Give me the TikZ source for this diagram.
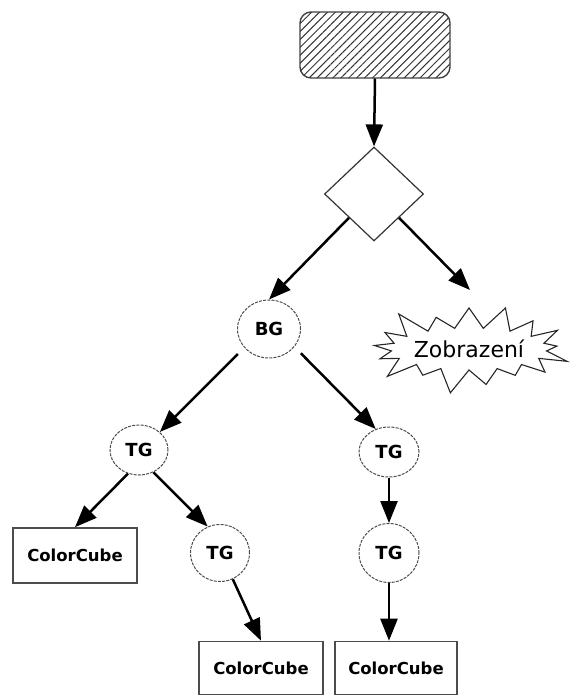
\documentclass[tikz,border=0pt]{standalone}
\usepackage{fontspec}
\setmainfont{DejaVu Sans}
\usetikzlibrary{shapes.geometric,shapes.symbols,arrows.meta,patterns.meta}

\begin{document}
\begin{tikzpicture}[x=1pt,y=-1pt,
  conn/.style={line width=2.5pt, -{Triangle[length=22pt,width=17pt]}},
  grp/.style={ellipse, draw=black!70, line width=1pt, dash pattern=on 3pt off 1.2pt,
    inner sep=0pt, font=\fontsize{18}{20}\selectfont\bfseries},
  cube/.style={rectangle, draw=black!70, line width=1.6pt, minimum width=124pt,
    minimum height=53pt, inner sep=0pt, font=\fontsize{16.5}{18}\selectfont\bfseries},
]
\useasboundingbox (0,0) rectangle (571,696);

% scene root (hatched)
\node[draw=black!75, line width=1.4pt, rounded corners=11pt, minimum width=150pt,
  minimum height=66pt, pattern={Lines[angle=45,distance=5.6pt,line width=1pt]},
  pattern color=black!80] (root) at (375,45) {};

% switch
\node[diamond, draw=black!80, line width=1.2pt, minimum width=99pt, minimum height=94pt,
  inner sep=0pt] (sw) at (374,194) {};

% view
\node[starburst, starburst points=17, starburst point height=28pt, draw=black!85,
  line width=1.1pt, minimum width=206pt, minimum height=98pt, inner sep=0pt,
  font=\fontsize{22}{24}\selectfont] (view) at (469,349) {Zobrazení};

% group nodes
\node[grp, minimum width=63pt, minimum height=58pt] (bg) at (269,329) {BG};
\node[grp, minimum width=58pt, minimum height=50pt] (tg1) at (139,450) {TG};
\node[grp, minimum width=59pt, minimum height=57pt] (tg2) at (220,553) {TG};
\node[grp, minimum width=60pt, minimum height=50pt] (tg3) at (389,452) {TG};
\node[grp, minimum width=60pt, minimum height=59pt] (tg4) at (389,553) {TG};

% shapes
\node[cube, minimum height=55pt] (cc1) at (75,555.5) {ColorCube};
\node[cube] (cc2) at (261,668) {ColorCube};
\node[cube, minimum width=122pt] (cc3) at (396,668) {ColorCube};

% connectors
\coordinate (viewtip) at (470,290);
\draw[conn] (root.south) -- (sw.north);
\draw[conn] (sw.south west) -- (bg.north);
\draw[conn] (sw.south east) -- (viewtip);
\draw[conn, shorten <=9pt] (bg.217) -- (tg1.north east);
\draw[conn, shorten <=9pt] (bg.-35) -- (tg3.120);
\draw[conn] (tg1.245) -- (cc1.north);
\draw[conn] (tg1.-57) -- (tg2.115);
\draw[conn] (tg2.-64) -- (cc2.north);
\draw[conn] (tg3.south) -- (tg4.north);
\draw[conn] (tg4.south) -- (tg4.south |- cc3.north);
\end{tikzpicture}
\end{document}
